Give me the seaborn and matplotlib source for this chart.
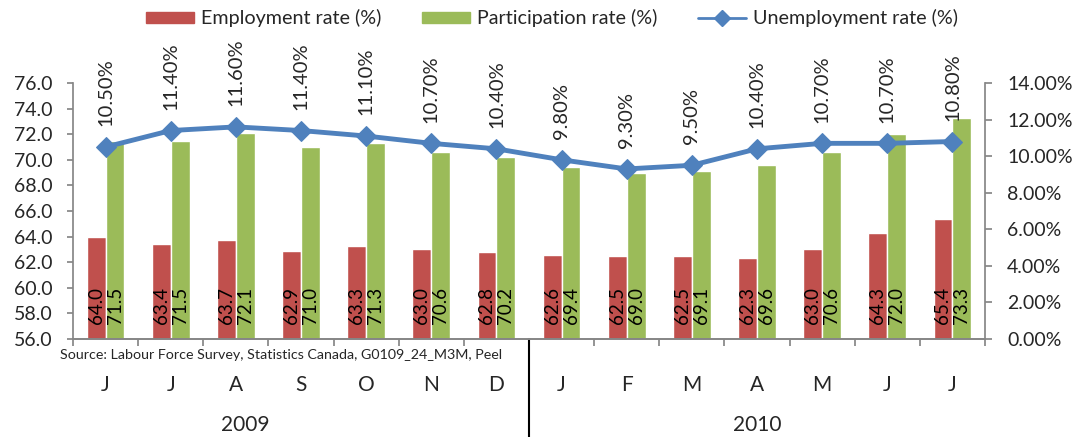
import matplotlib
matplotlib.use("Agg")
import numpy as np
import pandas as pd
import seaborn as sns
import matplotlib.pyplot as plt
from matplotlib.lines import Line2D
from matplotlib.patches import Patch

sns.set_theme(style="white")
plt.rcParams["font.family"] = ["Lato", "DejaVu Sans"]

months = ["J", "J", "A", "S", "O", "N", "D", "J", "F", "M", "A", "M", "J", "J"]
years = ["2009", "2010"]
employment = [64.0, 63.4, 63.7, 62.9, 63.3, 63.0, 62.8, 62.6, 62.5, 62.5, 62.3, 63.0, 64.3, 65.4]
participation = [71.5, 71.5, 72.1, 71.0, 71.3, 70.6, 70.2, 69.4, 69.0, 69.1, 69.6, 70.6, 72.0, 73.3]
unemployment = [10.5, 11.4, 11.6, 11.4, 11.1, 10.7, 10.4, 9.8, 9.3, 9.5, 10.4, 10.7, 10.7, 10.8]

RED = "#C0504D"
GREEN = "#9BBB59"
BLUE = "#4F81BD"
GREY = "#868686"

idx = list(range(len(months)))
bars = pd.DataFrame({
    "idx": idx * 2,
    "value": employment + participation,
    "series": ["Employment rate (%)"] * len(idx) + ["Participation rate (%)"] * len(idx),
})

fig = plt.figure(figsize=(10.72, 4.37), dpi=100)
ax = fig.add_axes([73 / 1072, 1 - 339 / 437, 912 / 1072, 256 / 437])

sns.barplot(data=bars, x="idx", y="value", hue="series", palette=[RED, GREEN],
            width=0.58, gap=0, ax=ax, legend=False, saturation=1)
ax.set_ylim(56, 76)
ax.set_xlim(-0.5, len(idx) - 0.5)

# bar value labels, rotated, at the bottom of each bar
for cont in ax.containers:
    for rect in cont:
        ax.text(rect.get_x() + rect.get_width() / 2, 57.15, f"{rect.get_height():.1f}",
                rotation=90, ha="center", va="bottom", fontsize=13.5, color="black")

ax2 = ax.twinx()
sns.lineplot(x=idx, y=unemployment, ax=ax2, color=BLUE, linewidth=3.5,
             marker="D", markersize=10, markeredgecolor=BLUE)
ax2.set_ylim(0, 14)
for i, u in zip(idx, unemployment):
    ax2.annotate(f"{u:.2f}%", (i, u), xytext=(0, 15), textcoords="offset points",
                 rotation=90, ha="center", va="bottom", fontsize=14.5)

# axes styling
for a in (ax, ax2):
    a.spines["top"].set_visible(False)
    for s in ("left", "right", "bottom"):
        a.spines[s].set_color(GREY)
ax.spines["right"].set_visible(False)
ax2.spines["left"].set_visible(False)

ax.set_yticks(np.arange(56, 76.1, 2))
ax.set_yticklabels([f"{v:.1f}" for v in np.arange(56, 76.1, 2)], fontsize=14)
ax2.set_yticks(np.arange(0, 14.1, 2))
ax2.set_yticklabels([f"{v:.2f}%" for v in np.arange(0, 14.1, 2)], fontsize=14)
ax.tick_params(axis="y", direction="out", length=4.5, color=GREY, left=True, pad=10)
ax2.tick_params(axis="y", direction="out", length=5, color=GREY, right=True, pad=11)

ax.set_xticks(np.arange(-0.5, len(idx), 1))
ax.set_xticklabels([])
ax.tick_params(axis="x", direction="out", length=5, color=GREY, bottom=True)
ax.set_xlabel("")
ax.set_ylabel("")
ax2.set_ylabel("")

trans = ax.get_xaxis_transform()
for i, m in zip(idx, months):
    ax.text(i, -0.18, m, transform=trans, ha="center", va="center", fontsize=15)
ax.text(2.14, -0.335, years[0], transform=trans, ha="center", va="center", fontsize=15)
ax.text(10.0, -0.335, years[1], transform=trans, ha="center", va="center", fontsize=15)
ax.plot([6.5, 6.5], [0, -0.4], transform=trans, color="black", lw=1.5, clip_on=False)
ax.text(-0.7, -0.062, "Source: Labour Force Survey, Statistics Canada, G0109_24_M3M, Peel",
        transform=trans, ha="left", va="center", fontsize=10.3)

handles = [Patch(color=RED, label="Employment rate (%)"),
           Patch(color=GREEN, label="Participation rate (%)"),
           Line2D([], [], color=BLUE, lw=2, marker="D", markersize=8, label="Unemployment rate (%)")]
fig.legend(handles=handles, loc="center", bbox_to_anchor=(0.515, 0.958), ncol=3,
           frameon=False, fontsize=14.2, handlelength=2.4, handleheight=0.52,
           columnspacing=2.1, handletextpad=0.35)

fig.savefig("out.png", dpi=100)
